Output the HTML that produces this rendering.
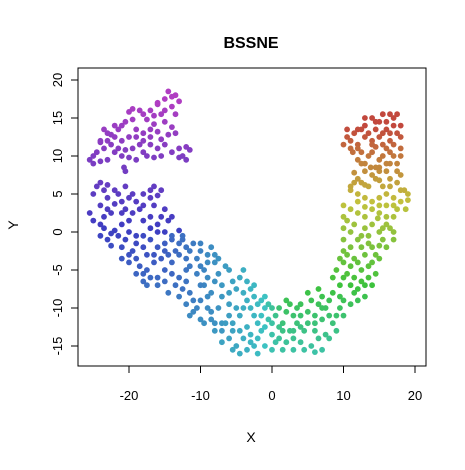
<!DOCTYPE html>
<html><head><meta charset="utf-8"><style>
body{margin:0;background:#fff}
svg text{font-family:"Liberation Sans",Arial,sans-serif;fill:#000}
</style></head><body>
<svg id="chart" width="465" height="465" viewBox="0 0 465 465">
<rect width="465" height="465" fill="#fff"/>
<text x="251" y="48" text-anchor="middle" font-size="16" font-weight="bold">BSSNE</text>
<text x="251" y="442" text-anchor="middle" font-size="14">X</text>
<text x="18" y="225" text-anchor="middle" font-size="14" transform="rotate(-90 18 225)">Y</text>
<g id="marks"></g>
<rect x="78" y="68" width="348" height="298" fill="none" stroke="#000" stroke-width="1"/>
<g id="axes"></g>
</svg>
<script>
const xTicks=[-20,-10,0,10,20];
const yTicks=[-15,-10,-5,0,5,10,15,20];
const xs=[-14.5,-13.5,-15,-13,-16,-14,-13.5,-15.5,-17,-18.5,-19.5,-20,-17.5,-16.5,-15,-14,-13.5,-20.5,-19,-18,-17,-16,-15.5,-21,-22,-23,-22.5,-21.5,-20,-24,-23.5,-24.5,-22,-21,-20,-19,-18,-18.5,-16,-16.5,-15.5,-14,-13,-12,-11.5,-12.5,-12,-25.5,-25,-23,-20.5,-20.7,-18,-17,-24,-22.5,-19.5,-15,-16,
-24.5,-24,-23,-22,-21.5,-20,-19.5,-19,-18,-17,-16.5,-17,-16.5,-23,-24,-23,-22.5,-22,-21,-20,-19.5,-18.5,-17,-15.5,-15,-25,-24,-23.5,-22,-21.5,-21,-20,-19,-18,-17,-16,-15,-14,-14.5,-13,-12.5,-13,-24,-23,-22.5,-21,-20,-19.5,-18,-17.5,-16,-15,-14,-13.5,-12,-11,-10,-21,-20,-18.5,-17.5,-16.5,-15.5,-14,-13,-12,-11.5,-10,-9,-8.5,-10.5,-18,-18,-17.5,-16,-15,-14,-13,-12,-10.5,-9.5,-8,-7.5,-6.5,-9,-13.5,-12.5,-11.5,-11,-10.5,-11,-12,-8,-7,-9.5,-8.5,-7,-6,-5.5,-4.5,-4,-3,-4,-2.5,-3.5,-10,-9.5,-8.5,-7.5,-6,-7,-8,-5,-4.5,-3,-2,-1,-1.5,-0.5,-3.5,-5.5,-6,-5,-4,-3,-2.5,-1,-2,0,0.5,1,-1,-0.5,0.5,1.5,1.5,-4.5,-3.5,-6.5,-2,
2,2.5,3,3.5,2.5,3,4,4.5,5,4,5,6,5.5,6.5,7,7.5,8,8.5,7,6,6.5,7.5,7,5.5,3,8.5,9,9.5,10,10,2,1,4,
9.5,10,10.5,11,11.5,12,12.5,13,13.5,11,12,13,13.5,14,14.5,10.5,11,12,12.5,11,10,13,14,15,15.5,16,16.5,17,16,15,9.5,10,13.5,14.5,
10,10.5,11,12,13,14,15,16,17,17.5,18,17,16,15,14,13,12,11,11.5,12.5,13.5,14.5,15.5,16.5,17.5,18.5,19,18,16,15,14,13,12,11,18.7,14.8,
12,13,13.5,14,15,15.5,16,17,17.5,18,16.5,15,14,13,12,11,10.5,10,11.5,12.5,13.5,14.5,15.5,16.5,17.5,18,17,16,15,14,17.5,16.5,17,13,12,14.5,11.3,13.8,16,
-14,-16.5,-18,-21,-22,-23.5,-23,-21.5,-19.5,-17.5,-15,-13,-25,-24,-19,-17,-14.5,-20.5,
-25,-23.5,-21,-20.5,-18,-16,-15.5,-25.5,-23.5,-20.5,-18,-16,-14,-22.5,-20.5,-19,-17,-16.5,-15,-14.5,-12.5,-11.5,-10,-9,-8,-19,-19,-17,-16,-15,-14.5,-13,-12,-10,-9,-7.5,-6,-5,-3.5,-2.5,-6,-9,-10,-11.5,-8.5,-7,-5.5,-4,-2.5,-1.5,0,0,-1.5,-3,-4.5,-7,-5.5,-2,0,1,-8,-1,
1.5,2,3.5,4.5,6,7,8,8,9,9.5,5,6.5,3,4,6,
8.5,9,10,11.5,12.5,14,13,12,11,12.5,11.5,14,15,15.5,17,13.5,11.5,10,
10,12,13,15,16,17,18,17.5,16.5,15,13,11.5,12.5,14.5,19,16.5,
11,12.5,14,15.5,17,18,16,14.5,13,12,15.5,18,16.5,10.5,15];
const ys=[18.5,18,17.5,17.2,16.8,16.5,15.5,15.5,16,16,16.2,15.8,14.8,14.2,14.5,13.8,13,14.5,13.5,13,12.5,13.2,12.2,12,12.5,13,11.5,13.5,12.5,12,11,10.5,10.5,10,9.8,9.5,10.5,11.5,11,9.8,10,10.5,11,11.2,10.8,10,9.5,9.5,9,9.5,8,8.5,12,11.5,11.8,12.8,14.8,16,17,
6,6.5,6.2,5.5,5,4.5,5,4,3.5,4.5,3.5,5.5,6,4.5,3.5,3,2.5,3.7,2.5,1.5,2.5,3,2,2,3,1.5,1,0.5,0.2,-0.5,1,0,-0.5,-0.5,0.5,1,0,-0.5,1.5,0.2,-0.5,-1.5,-0.5,-1,-1.8,-2,-3,-2.5,-2,-3,-2,-1.5,-1,-2.5,-2,-1.5,-1.5,-3.5,-4,-4.5,-5,-4,-3.5,-4,-3,-3.5,-4.5,-2.5,-3,-2,-3.5,-5.5,-6.5,-7,-6,-5,-5.5,-6,-5,-5.5,-5,-4,-3.5,-4.5,-6,-7,-7.5,-8,-9,-10,-10.5,-9.5,-6.5,-7,-7,-8,-8.5,-8,-6.5,-6,-5,-7.5,-8,-8.5,-9,-11.5,-12,-10.5,-10,-11,-12,-13,-10,-11,-10,-9.5,-10,-11,-9.5,-12.5,-13,-14,-15,-14,-13.5,-15,-15,-14,-13.5,-14.5,-12.5,-12.5,-11.5,-11,-13,-15.5,-16,-15.5,-12,-12,
-10.5,-9.5,-11,-12,-13,-14,-14.5,-13,-12,-11,-10.5,-11,-9,-9.5,-8.5,-10,-9,-8,-11.5,-13,-14,-13.5,-15.5,-15,-15.5,-12,-11,-10,-9,-11,-14.5,-10,-9.5,
-7,-6,-5.5,-7,-8,-7.5,-6.5,-7,-6,-4.5,-4,-3,-4.5,-2,-3,-3,-2,-1,-0.5,0,-1,0.5,1,0,-1,1,0.5,-1,-2,-1.8,-3.5,-2.5,-1.5,-5.5,
2,1.5,3,2.5,2,3,2.5,3.5,2,3,4,4.5,5,4.5,4,4.5,5,5.5,6.5,6.5,6,7,6,7,6.5,5.5,5,7.5,8,8,7.5,8,7,6,3,1.8,
9.5,9,10,10.5,9.5,10,11,10,9,11,12,12.5,12,12.5,11.5,12,12.5,11.5,13,13.5,13,13.5,13,13,13,12.5,14,14.5,14.5,15,15.5,15.5,15,14,11,11.2,10.5,8.5,9,
17.8,15.3,15.5,14,14,13.5,12,11,11,10,11.5,9.8,10,9.3,12.5,13.5,12.8,10.8,
5,5.5,4,6,5,4.8,5.5,2.5,2,3,1.5,0,2,-0.2,-1,-1.5,-1,-3,-2.5,-3,-1,-2.5,-4.5,-4,-3,-3.5,-5.5,-6,-7,-6.5,-8,-8.5,-6.5,-7,-8.5,-5.5,-5,-7.5,-6.5,-7,-9.5,-10,-9,-11,-11.5,-13,-12,-10,-11,-9,-10,-12,-13,-14.5,-13,-14.5,-15.5,-16,-15.5,-14,-12,-8.5,
-12,-9,-10,-15.5,-12,-10,-11,-14,-13,-8.5,-8,-7.5,-13,-12.5,-15.8,
-6,-5,-4,-6,-5,-7,-8.5,-9,-9.5,-2,-3.5,-4,-3.5,0.5,0,-0.5,1,0.5,
3.5,4,3.3,3.5,2,3.5,5.5,8,9,6.8,6.2,7.8,9,8.5,4.2,6,
11,10.5,11.5,11.5,11.5,10,13.5,14.5,15,13.5,15.5,14,10.5,13.5,8.5];
const X0=272,XS=7.15,Y0=232,YS=7.6;
function sx(v){return X0+v*XS;}
function sy(v){return Y0-v*YS;}
function hueOf(x,y){
  const yb=Math.min(292,214+(y+8)*3.1);
  const xb=215-(x+12)*3.2;
  const hl=y<0?Math.max(178,Math.min(yb,xb)):yb;
  const hr=Math.max(5,158-(y+14)*5.5);
  if(x<-1)return hl;
  if(x>1.5)return hr;
  const t=(x+1)/2.5;return hl*(1-t)+hr*t;
}
const NS="http://www.w3.org/2000/svg";
const g=document.getElementById('marks');
for(let i=0;i<xs.length;i++){
  const c=document.createElementNS(NS,'circle');
  c.setAttribute('cx',sx(xs[i]).toFixed(1));
  c.setAttribute('cy',sy(ys[i]).toFixed(1));
  c.setAttribute('r','2.9');
  c.setAttribute('fill','hsl('+hueOf(xs[i],ys[i]).toFixed(0)+',52%,50%)');
  
  
  g.appendChild(c);
}
const ax=document.getElementById('axes');
xTicks.forEach(v=>{
  const l=document.createElementNS(NS,'line');
  l.setAttribute('x1',sx(v));l.setAttribute('x2',sx(v));l.setAttribute('y1',366);l.setAttribute('y2',373);l.setAttribute('stroke','#000');
  
  
  ax.appendChild(l);
  const t=document.createElementNS(NS,'text');
  t.setAttribute('x',sx(v));t.setAttribute('y',400);t.setAttribute('text-anchor','middle');t.setAttribute('font-size','13');
  t.textContent=v;
  
  
  ax.appendChild(t);
});
yTicks.forEach(v=>{
  const l=document.createElementNS(NS,'line');
  l.setAttribute('x1',71);l.setAttribute('x2',78);l.setAttribute('y1',sy(v));l.setAttribute('y2',sy(v));l.setAttribute('stroke','#000');
  
  
  ax.appendChild(l);
  const t=document.createElementNS(NS,'text');
  t.setAttribute('x',62);t.setAttribute('y',sy(v));t.setAttribute('text-anchor','middle');t.setAttribute('font-size','13');
  t.setAttribute('transform','rotate(-90 62 '+sy(v)+')');
  t.textContent=v;
  
  
  ax.appendChild(t);
});
</script>
</body></html>
